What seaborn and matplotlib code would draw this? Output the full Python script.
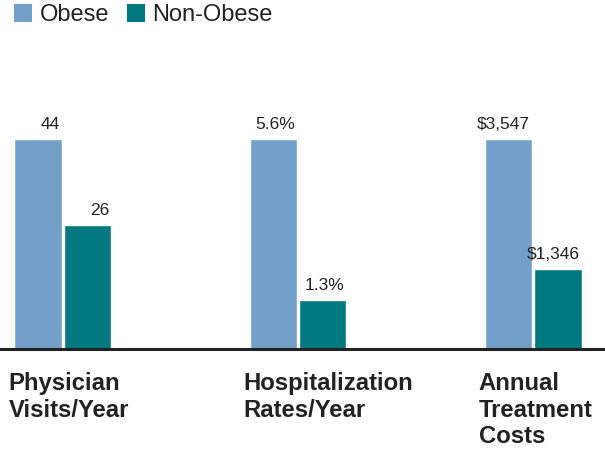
import seaborn as sns
import matplotlib.pyplot as plt
import pandas as pd
from matplotlib.patches import Patch

# chart values
categories = ['Physician\nVisits/Year', 'Hospitalization\nRates/Year', 'Annual\nTreatment\nCosts']
obese = [44, 5.6, 3547]
non_obese = [26, 1.3, 1346]
obese_labels = ['44', '5.6%', '$3,547']
non_obese_labels = ['26', '1.3%', '$1,346']
groups = ['Obese', 'Non-Obese']
colors = ['#739fcb', '#007a80']

sns.set_style('white')
plt.rcParams['font.family'] = ['Liberation Sans', 'DejaVu Sans']

# each group is scaled so the obese bar has the same height
rows = []
for i, cat in enumerate(categories):
    rows.append({'cat': cat, 'group': 'Obese', 'value': obese[i] / obese[i]})
    rows.append({'cat': cat, 'group': 'Non-Obese', 'value': non_obese[i] / obese[i]})
df = pd.DataFrame(rows)

fig = plt.figure(figsize=(6.05, 4.5), dpi=100)
ax = fig.add_axes([0, 1 - 349 / 450, 1, 252 / 450])

sns.barplot(data=df, x='cat', y='value', hue='group', hue_order=groups,
            palette=colors, width=0.42, gap=0.04, saturation=1,
            legend=False, ax=ax)

ax.set_xlim(-63 / 236, 2 + 72 / 236)
ax.set_ylim(0, 1.2)
ax.set_xlabel('')
ax.set_ylabel('')
ax.set_xticks([])
ax.set_yticks([])
for s in ['top', 'left', 'right']:
    ax.spines[s].set_visible(False)
ax.spines['bottom'].set_color('#222222')
ax.spines['bottom'].set_linewidth(2.2)

# value labels, right aligned over each bar
for cont, labels in zip(ax.containers, [obese_labels, non_obese_labels]):
    for p, lab in zip(cont.patches, labels):
        ax.annotate(lab, xy=(p.get_x() + p.get_width(), p.get_height()),
                    xytext=(-2, 7), textcoords='offset pixels',
                    ha='right', va='bottom', fontsize=12.5, color='#222222')

# category labels under the axis
for p, cat in zip(ax.containers[0].patches, categories):
    ax.annotate(cat, xy=(p.get_x(), 0), xytext=(-6, -23), textcoords='offset pixels',
                ha='left', va='top', fontsize=17.2, fontweight='bold',
                color='#222222', linespacing=1.2)

handles = [Patch(facecolor=c, edgecolor='none') for c in colors]
fig.legend(handles, groups, loc='upper left', bbox_to_anchor=(14 / 605, 1 - 4 / 450),
           ncol=2, frameon=False, fontsize=17, handlelength=0.78, handleheight=0.78,
           handletextpad=0.3, columnspacing=0.75, borderpad=0, borderaxespad=0,
           labelcolor='#222222')

fig.savefig('out.png', dpi=100)
